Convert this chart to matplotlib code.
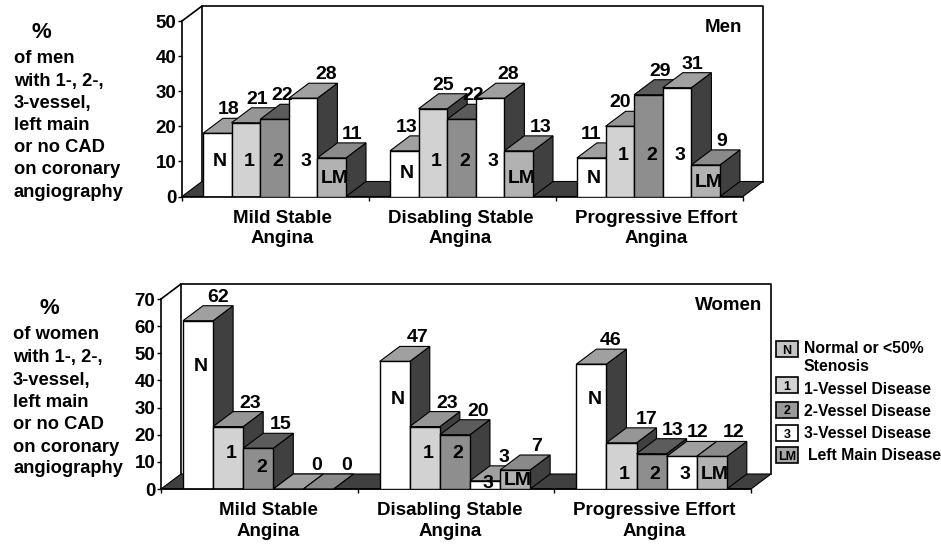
import matplotlib
matplotlib.use("Agg")
import matplotlib.pyplot as plt
from matplotlib.patches import Rectangle

plt.rcParams["font.family"] = ["Liberation Sans", "DejaVu Sans"]
plt.rcParams["font.weight"] = "bold"

W, H = 941, 544

codes = ["N", "1", "2", "3", "LM"]
men_values = [[18, 21, 22, 28, 11], [13, 25, 22, 28, 13], [11, 20, 29, 31, 9]]
women_values = [[62, 23, 15, 0, 0], [47, 23, 20, 3, 7], [46, 17, 13, 12, 12]]
group_names = ["Mild Stable\nAngina", "Disabling Stable\nAngina", "Progressive Effort\nAngina"]
men_yticks = [0, 10, 20, 30, 40, 50]
women_yticks = [0, 10, 20, 30, 40, 50, 60, 70]
men_side_text = ["of men", "with 1-, 2-,", "3-vessel,", "left main", "or no CAD", "on coronary", "angiography"]
women_side_text = ["of women", "with 1-, 2-,", "3-vessel,", "left main", "or no CAD", "on coronary", "angiography"]
legend_names = ["Normal or <50%\nStenosis", "1-Vessel Disease", "2-Vessel Disease", "3-Vessel Disease", "Left Main Disease"]

# hand placed letters and value labels, as in the original slide
men_letter_y = [[10, 10, 10, 10, 5], [6.5, 10, 10, 10, 5], [5, 11.8, 11.8, 11.8, 4]]
women_letter_y = [[45, 13, 8, None, None], [33, 13, 13, 2, 3.3], [33, 5.5, 5.5, 5.5, 5.5]]
men_label_dx = [[11, 11, 8, 23, 20], [2, 10, 12, 18, 22], [0, 0, 12, 15, 16]]
women_label_dx = [[20, 22, 22, 28, 28], [23, 22, 23, 19, 21], [19, 25, 21, 16, 22]]

front_colors = ["white", "#d2d2d2", "#8e8e8e", "white", "#b2b2b2"]
top_colors = ["#a0a0a0", "#969696", "#5c5c5c", "#a0a0a0", "#8a8a8a"]
side_color = "#404040"
swatch_colors = ["#c4c4c4", "#d2d2d2", "#999999", "white", "#a8a8a8"]

fig = plt.figure(figsize=(W / 100, H / 100), dpi=100)


def panel(left, right, top, bottom, ymax, values, letter_y, label_dx, yticks, name_dx, name_y, spacing, title, title_xy):
    ax = fig.add_axes([left / W, 1 - bottom / H, (right - left) / W, (bottom - top) / H])
    ax.set_xlim(0, 3)
    ax.set_ylim(0, ymax)
    ax.patch.set_visible(False)
    ax.spines["top"].set_visible(False)
    ax.spines["right"].set_visible(False)
    ax.spines["left"].set_linewidth(1.2)
    ax.spines["bottom"].set_linewidth(1.2)
    ax.set_xticks([0, 1, 2, 3])
    ax.set_xticklabels([])
    ax.set_yticks(yticks)
    ax.tick_params(axis="y", labelsize=13.5, length=3, width=1, pad=1)
    ax.tick_params(axis="x", length=3, width=1)

    px = 3 / (right - left)
    dx = 20 * px
    dy = 15 / ((bottom - top) / ymax)
    pad, width = 0.112, 0.153

    # back wall and floor
    ax.plot([0, dx, dx], [ymax, ymax + dy, dy], color="black", lw=1.2, clip_on=False, zorder=0.5)
    ax.plot([dx, 3 + dx, 3 + dx], [ymax + dy, ymax + dy, dy], color="black", lw=1.2, clip_on=False, zorder=0.5)
    ax.fill([0, 3, 3 + dx, dx], [0, 0, dy, dy], color=side_color, ec="black", lw=0.8, clip_on=False, zorder=0.6)

    z = 1
    for g, row in enumerate(values):
        for i, v in enumerate(row):
            x = g + pad + i * width
            ax.fill([x + width, x + width + dx, x + width + dx, x + width],
                    [0, dy, v + dy, v], fc=side_color, ec="black", lw=0.8, clip_on=False, zorder=z)
            ax.fill([x, x + width, x + width + dx, x + dx],
                    [v, v, v + dy, v + dy], fc=top_colors[i], ec="black", lw=0.8, clip_on=False, zorder=z)
            ax.bar(x, v, width, align="edge", color=front_colors[i], ec="black", lw=1, zorder=z + 0.5)
            z += 1
            if letter_y[g][i] is not None:
                ax.text(x + width / 2 + 3 * px, letter_y[g][i], codes[i], ha="center", va="center",
                        fontsize=14, zorder=100)
            ax.text(x + width / 2 + label_dx[g][i] * px, v + dy, str(v), ha="center", va="bottom",
                    fontsize=14, zorder=100)

    for g, name in enumerate(group_names):
        ax.text(g + 0.5 + name_dx[g], name_y, name, ha="center", va="top", fontsize=13.5,
                linespacing=spacing, transform=ax.get_xaxis_transform())
    ax.text((title_xy[0] - left) / (right - left), 1 - (title_xy[1] - top) / (bottom - top), title,
            ha="right", va="center", fontsize=13.5, transform=ax.transAxes, zorder=100)
    return ax


panel(182, 743, 21, 196.5, 50, men_values, men_letter_y, men_label_dx, men_yticks,
      [0.035, -0.012, 0.035], -0.077, 1.23, "Men", (742, 27))
panel(161, 751, 299, 489, 70, women_values, women_letter_y, women_label_dx, women_yticks,
      [0.045, -0.03, 0.01], -0.068, 1.35, "Women", (762, 305))


def page_text(x, y, s, va="center", **kw):
    fig.text(x / W, 1 - y / H, s, va=va, **kw)


page_text(41, 32, "%", fontsize=16, ha="center")
for y, s in zip([63, 86, 108, 130, 152, 174, 197], men_side_text):
    page_text(14, y, s, va="baseline", fontsize=13.2)
page_text(49, 308, "%", fontsize=16, ha="center")
for y, s in zip([339, 362, 385, 407, 429, 452, 473], women_side_text):
    page_text(13, y, s, va="baseline", fontsize=13.2)

# legend drawn by hand, swatches carry the bar letters
swatch_y = [349, 385, 410, 433, 455]
legend_text_y = [357.5, 390, 411, 433, 455]
for i, s in enumerate(legend_names):
    y = swatch_y[i]
    fig.add_artist(Rectangle((776 / W, 1 - (y + 8) / H), 22 / W, 16 / H, fc=swatch_colors[i],
                             ec="black", lw=1.2, transform=fig.transFigure))
    page_text(787, y + 1.5, codes[i], fontsize=9, ha="center")
    page_text(804 if i != 4 else 808, legend_text_y[i], s, fontsize=11.3, linespacing=1.25)

fig.savefig("out.png", dpi=100)
